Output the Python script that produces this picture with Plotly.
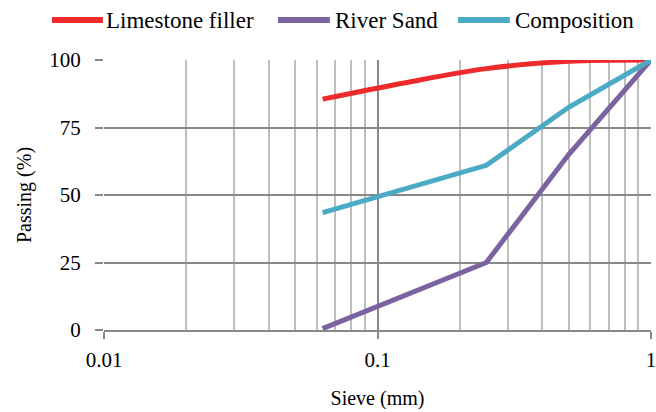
import plotly.graph_objects as go

sieve = [0.063, 0.125, 0.25, 0.5, 1.0]
limestone = [85.5, 91.5, 96.8, 99.5, 100]
sieve_sand = [0.063, 0.25, 0.5, 1.0]
river_sand = [0.5, 25, 65, 100]
composition = [43.5, 61, 82.5, 100]

names = ["Limestone filler", "River Sand", "Composition"]
colors = ["#EE2B2B", "#7B62A0", "#4BAAC4"]

font = "Liberation Serif, Times New Roman, serif"
fig = go.Figure()
fig.add_trace(go.Scatter(x=sieve, y=limestone, mode="lines", name=names[0], showlegend=False,
                         line=dict(color=colors[0], width=5, shape="spline")))
fig.add_trace(go.Scatter(x=sieve_sand, y=river_sand, mode="lines", name=names[1], showlegend=False,
                         line=dict(color=colors[1], width=5)))
fig.add_trace(go.Scatter(x=sieve_sand, y=composition, mode="lines", name=names[2], showlegend=False,
                         line=dict(color=colors[2], width=5)))

# manual legend (paper coordinates relative to plot area)
leg_y = 1.148
leg_sym = [(-0.095, -0.002), (0.318, 0.413), (0.647, 0.742)]
leg_txt = [0.0, 0.4186, 0.7477]
for (x0, x1), tx, nm, c in zip(leg_sym, leg_txt, names, colors):
    fig.add_shape(type="line", xref="paper", yref="paper", x0=x0, x1=x1, y0=leg_y, y1=leg_y,
                  line=dict(color=c, width=6))
    fig.add_annotation(xref="paper", yref="paper", x=tx, y=leg_y, text=nm, showarrow=False,
                       xanchor="left", yanchor="middle",
                       font=dict(family=font, size=23, color="#000000"))

tf = dict(family=font, size=21, color="#000000")
major = "#888888"
minor_c = "#BEBEBE"
fig.update_layout(
    width=656, height=412,
    margin=dict(l=104, r=5, t=60, b=82, autoexpand=False),
    paper_bgcolor="white", plot_bgcolor="white",
    font=dict(family=font, size=20, color="#000000"),
    showlegend=False,
    xaxis=dict(type="log", range=[-2, 0], tickvals=[0.01, 0.1, 1], ticktext=["0.01", "0.1", "1"],
               tickfont=tf, ticklabelstandoff=3, ticklabeloverflow="allow", automargin=False,
               showgrid=True, gridcolor=major, gridwidth=1.5,
               ticks="outside", ticklen=7, tickcolor=major, tickwidth=1.5,
               showline=True, linecolor=major, linewidth=1.5,
               minor=dict(dtick="D1", showgrid=True, gridcolor=minor_c, gridwidth=1.5, ticks=""),
               title=dict(text="Sieve (mm)", standoff=20, font=dict(family=font, size=20, color="#000000")),
               zeroline=False),
    yaxis=dict(range=[0, 100], tickvals=[0, 25, 50, 75, 100], tickfont=tf, ticklabelstandoff=10,
               automargin=False,
               showgrid=True, gridcolor=major, gridwidth=1.5,
               ticks="outside", ticklen=8, tickcolor=major, tickwidth=1.5,
               showline=False, zeroline=False,
               title=dict(text="Passing (%)", standoff=12, font=dict(family=font, size=20, color="#000000"))),
)
fig.write_html("out.html")
